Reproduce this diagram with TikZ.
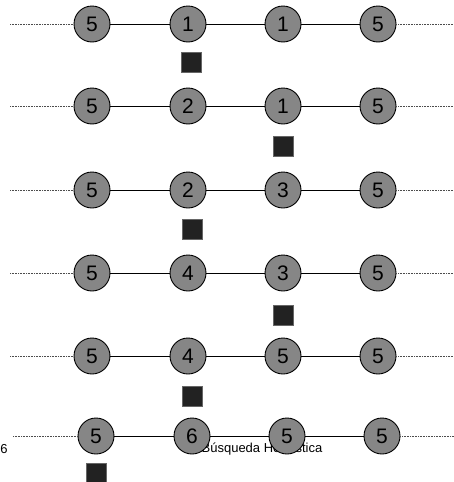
\documentclass[tikz,border=0pt]{standalone}
\usepackage{fontspec}
\setmainfont{Liberation Sans}
\definecolor{nodegray}{RGB}{134,134,134}
\definecolor{sqfill}{RGB}{34,34,34}
\begin{document}
\begin{tikzpicture}[x=1pt,y=-1pt,
  st/.style={circle,draw=black,line width=0.9pt,fill=nodegray,minimum size=36pt,inner sep=0pt,font=\fontsize{21}{21}\selectfont},
  blk/.style={rectangle,draw=black!60,line width=0.5pt,fill=sqfill,minimum size=20pt,inner sep=0pt},
  link/.style={line width=0.9pt,black},
  dots/.style={line width=0.6pt,black!70,dash pattern=on 0.8pt off 0.8pt},
  lbl/.style={font=\fontsize{13}{13}\selectfont,inner sep=0pt}]
\useasboundingbox (0,0) rectangle (454,482);
\node[lbl] (pg) at (4,449) {6};
\node[lbl] (title) at (262,449) {Búsqueda Heurística};
\foreach \r/\y/\dx/\a/\b/\c/\d/\sx/\sy/\lx in {
  1/24/0/5/1/1/5/191/62/10,
  2/106/0/5/2/1/5/283/146/10,
  3/190/0/5/2/3/5/192/229/10,
  4/273/0/5/4/3/5/283/315/10,
  5/356/0/5/4/5/5/192/396/10,
  6/436/4/5/6/5/5/96/473/13}{
  \node[st] (a\r) at (92+\dx,\y) {\a};
  \node[st] (b\r) at (188+\dx,\y) {\b};
  \node[st] (c\r) at (283+\dx,\y) {\c};
  \node[st] (d\r) at (378+\dx,\y) {\d};
  \coordinate (l\r) at (\lx,\y);
  \coordinate (e\r) at (454,\y);
  \draw[link] (a\r) -- (b\r);
  \draw[link] (b\r) -- (c\r);
  \draw[link] (c\r) -- (d\r);
  \draw[dots] (l\r) -- (a\r);
  \draw[dots] (d\r) -- (e\r);
  \node[blk] (s\r) at (\sx,\sy) {};
}
\end{tikzpicture}
\end{document}
